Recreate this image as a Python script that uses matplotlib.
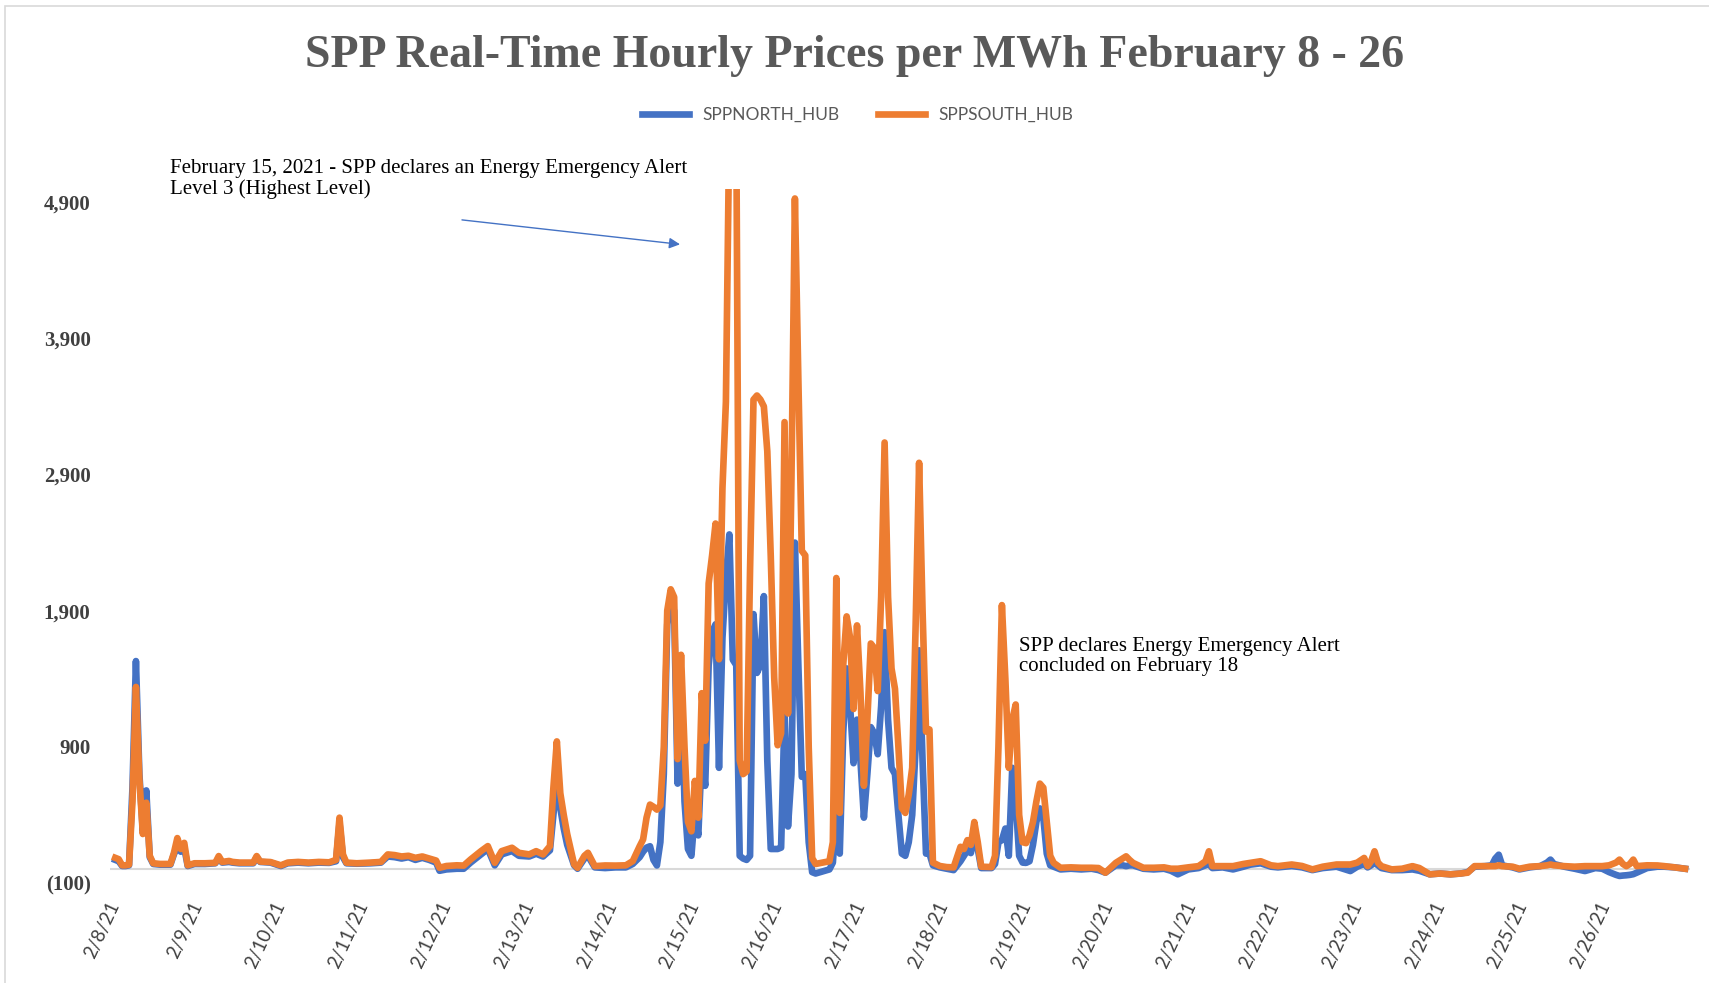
import matplotlib
matplotlib.use("Agg")
import matplotlib.pyplot as plt
from matplotlib.patches import Rectangle

# hourly prices ($/MWh), hours counted from 2/8/21 00:00
hours = [0, 1, 2, 3, 4, 5, 6, 7, 8, 9, 10, 11, 13, 16, 17, 18, 19, 20, 21, 23,
         26, 29, 30, 31, 33, 34, 36, 40, 41, 42, 45, 48, 50, 53, 56, 59, 62, 64, 65, 66,
         67, 70, 74, 77, 79, 81, 83, 85, 87, 89, 91, 93, 94, 96, 99, 101, 103, 106, 108, 110,
         112, 115, 117, 120, 122, 124, 126, 127, 128, 129, 130, 131, 133, 134, 136, 137, 139, 142, 145, 148,
         150, 152, 153, 154, 155, 156, 157, 158, 159, 160, 161, 162, 163, 164, 165, 166, 167, 168, 169, 170,
         171, 172, 173, 174, 175, 176, 177, 178, 179, 180, 181, 182, 183, 184, 185, 186, 187, 188, 189, 190,
         191, 192, 193, 194, 195, 196, 197, 198, 199, 200, 201, 202, 203, 205, 207, 208, 209, 210, 211, 212,
         213, 214, 215, 216, 217, 218, 219, 220, 221, 222, 223, 224, 225, 226, 227, 228, 229, 230, 231, 232,
         233, 234, 235, 236, 237, 239, 241, 243, 245, 246, 247, 248, 249, 250, 251, 254, 255, 256, 257, 258,
         259, 260, 261, 262, 263, 264, 265, 266, 267, 268, 269, 270, 271, 272, 274, 277, 280, 283, 285, 287,
         290, 292, 293, 294, 295, 298, 301, 304, 306, 308, 311, 314, 316, 317, 318, 321, 324, 327, 329, 332,
         335, 337, 341, 344, 347, 350, 354, 358, 360, 362, 363, 364, 365, 366, 367, 370, 373, 376, 378, 381,
         384, 387, 390, 392, 394, 397, 399, 400, 401, 402, 405, 407, 410, 413, 415, 416, 417, 420, 423, 426,
         429, 431, 433, 435, 436, 437, 438, 439, 440, 441, 444, 447, 449, 452, 455]

north_hub = [70, 60, 25, 25, 30, 600, 1530, 700, 280, 580, 90, 40, 35, 35, 110, 170, 130, 160, 25, 40,
             40, 45, 85, 50, 55, 50, 45, 45, 90, 55, 50, 25, 45, 50, 45, 50, 48, 60, 340, 90,
             45, 42, 45, 50, 95, 90, 80, 90, 70, 85, 70, 50, -10, 0, 5, 5, 50, 110, 150, 30,
             110, 135, 100, 95, 115, 95, 140, 400, 660, 450, 300, 180, 30, 5, 80, 100, 15, 10, 15, 15,
             40, 90, 130, 160, 170, 70, 29, 200, 700, 1800, 1950, 1900, 630, 1400, 500, 150, 100, 415, 250, 846,
             614, 1500, 1742, 1800, 746, 1700, 2140, 2460, 1540, 1500, 100, 80, 70, 100, 1875, 1443, 1500, 2007, 800, 150,
             150, 150, 160, 1145, 315, 700, 2400, 1500, 680, 700, 200, -20, -30, -15, 0, 50, 400, 116, 1000, 1476,
             1200, 780, 1100, 800, 380, 700, 1045, 1000, 846, 1200, 1742, 1100, 746, 700, 400, 116, 100, 200, 400, 900,
             1609, 800, 116, 116, 30, 15, 5, -5, 60, 100, 140, 120, 250, 150, 10, 10, 40, 200, 215, 300,
             100, 746, 500, 100, 50, 48, 60, 180, 350, 448, 380, 116, 30, 20, 0, 5, 0, 5, -5, -24,
             30, 30, 24, 30, 30, 5, 0, 5, -10, -36, 0, 10, 30, 40, 10, 15, 0, 20, 35, 45,
             20, 15, 25, 15, -5, 10, 20, -12, 20, 40, 15, 30, 48, 30, 10, -5, -5, 0, -10, -36,
             -30, -36, -30, -20, 20, 24, 30, 80, 108, 30, 15, 0, 15, 24, 50, 72, 40, 20, 5, -12,
             10, 5, -20, -40, -48, -45, -43, -40, -35, -24, 10, 20, 20, 15, 5]

south_hub = [85, 75, 30, 30, 35, 500, 1340, 660, 260, 490, 100, 45, 40, 40, 120, 230, 150, 195, 30, 45,
             45, 48, 98, 55, 62, 55, 50, 50, 98, 58, 54, 30, 50, 55, 50, 55, 52, 70, 380, 110,
             50, 45, 50, 55, 110, 105, 95, 100, 85, 95, 80, 65, 12, 25, 30, 28, 73, 134, 171, 49,
             134, 159, 122, 110, 134, 110, 171, 600, 940, 560, 400, 260, 37, 12, 100, 122, 24, 29, 28, 30,
             61, 170, 220, 380, 476, 460, 439, 470, 900, 1900, 2057, 2000, 810, 1576, 900, 350, 280, 650, 380, 1294,
             945, 2100, 2306, 2540, 1543, 2800, 3434, 5500, 5500, 5500, 800, 700, 720, 2200, 3450, 3480, 3450, 3400, 3070, 2300,
             1410, 912, 1000, 3285, 1145, 2870, 4927, 3600, 2340, 2306, 900, 83, 40, 50, 60, 200, 2140, 415, 1500, 1858,
             1700, 1178, 1792, 1300, 614, 1100, 1659, 1626, 1310, 2000, 3135, 2000, 1476, 1327, 900, 450, 415, 550, 746, 1800,
             2986, 1900, 1012, 1028, 50, 25, 17, 15, 166, 150, 215, 180, 348, 200, 20, 17, 100, 900, 1941, 1400,
             746, 1100, 1211, 400, 200, 193, 250, 348, 500, 630, 600, 350, 100, 48, 12, 15, 12, 12, 10, -24,
             48, 80, 96, 70, 48, 12, 12, 15, 5, 5, 15, 24, 60, 133, 24, 24, 24, 40, 48, 60,
             30, 24, 36, 25, 0, 20, 36, 36, 50, 84, 24, 60, 133, 50, 24, 0, 5, 24, 10, -36,
             -30, -36, -30, -24, 24, 24, 24, 24, 30, 24, 20, 5, 20, 24, 30, 36, 30, 24, 20, 24,
             24, 24, 30, 50, 72, 40, 24, 40, 72, 24, 30, 29, 24, 15, 5]

assert len(hours) == len(north_hub) == len(south_hub)

day_labels = ["2/8/21", "2/9/21", "2/10/21", "2/11/21", "2/12/21", "2/13/21", "2/14/21",
              "2/15/21", "2/16/21", "2/17/21", "2/18/21", "2/19/21", "2/20/21", "2/21/21",
              "2/22/21", "2/23/21", "2/24/21", "2/25/21", "2/26/21"]
day_hours = [24 * i for i in range(len(day_labels))]

y_ticks = [-100, 900, 1900, 2900, 3900, 4900]
y_labels = ["(100)", "900", "1,900", "2,900", "3,900", "4,900"]

blue = "#4472C4"
orange = "#ED7D31"
serif = "Liberation Serif"

fig = plt.figure(figsize=(17.09, 9.83), dpi=100)
ax = fig.add_axes([0.0644, 0.1017, 0.9246, 0.7065])

ax.axhline(0, color="#d9d9d9", lw=1.5, zorder=0)
ax.plot(hours, north_hub, color=blue, lw=4.8, solid_joinstyle="round", label="SPPNORTH_HUB")
ax.plot(hours, south_hub, color=orange, lw=4.8, solid_joinstyle="round", label="SPPSOUTH_HUB")

ax.set_xlim(-1.5, 456.5)
ax.set_ylim(-100, 5000)
for s in ax.spines.values():
    s.set_visible(False)

ax.set_yticks(y_ticks)
ax.set_yticklabels(y_labels, family=serif, fontsize=15, fontweight="bold", color="#404040")
ax.set_xticks(day_hours)
ax.set_xticklabels(day_labels, family="Lato", fontsize=13.5, color="#404040",
                   rotation=65, ha="right", va="center", rotation_mode="anchor")
ax.tick_params(axis="both", length=0)
ax.tick_params(axis="x", pad=14)
ax.tick_params(axis="y", pad=14)

fig.text(0.5, 1 - 56 / 983, "SPP Real-Time Hourly Prices per MWh February 8 - 26",
         ha="center", va="center", fontsize=33, fontweight="bold", family=serif, color="#595959")

leg = ax.legend(loc="center", bbox_to_anchor=(0.502, 0.883), bbox_transform=fig.transFigure,
                ncol=2, frameon=False, handlelength=2.7, columnspacing=2.2,
                prop={"family": "Lato", "size": 12.5})
for t in leg.get_texts():
    t.set_color("#595959")

ax.text(16, 5220, "February 15, 2021 - SPP declares an Energy Emergency Alert\nLevel 3 (Highest Level)",
        family=serif, fontsize=15, ha="left", va="top", linespacing=1.1, clip_on=False)
ax.annotate("", xy=(164.5, 4588), xytext=(99.7, 4772),
            arrowprops=dict(arrowstyle="-|>", color=blue, lw=1, mutation_scale=16))

ax.text(262, 1710, "SPP declares Energy Emergency Alert\nconcluded on February 18",
        family=serif, fontsize=15, ha="left", va="top", linespacing=1.1)

fig.patches.append(Rectangle((0.0032, -0.01), 1.0, 1.0044, transform=fig.transFigure,
                             fill=False, edgecolor="#d9d9d9", lw=1.2))

fig.savefig("out.png", dpi=100, facecolor="white")
